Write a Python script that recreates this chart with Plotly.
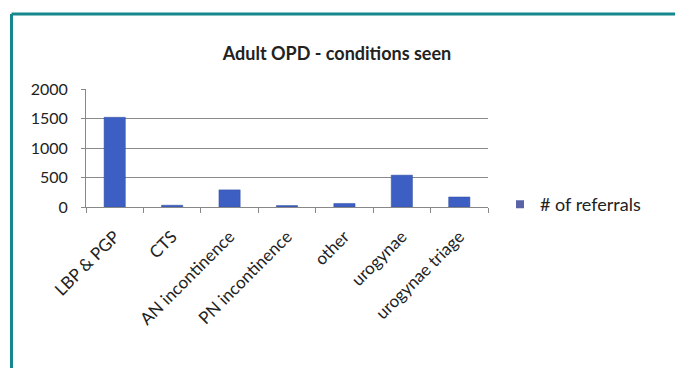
import plotly.graph_objects as go

categories = ["LBP & PGP", "CTS", "AN incontinence", "PN incontinence",
              "other", "urogynae", "urogynae triage"]
referrals = [1520, 30, 290, 25, 60, 540, 170]
y_ticks = [0, 500, 1000, 1500, 2000]

# plot area in pixels: x 86..488, y 89..207
L, R, T, B = 86, 488, 89, 207
W, H = 675, 368
BAR = "#3d5fc4"


def px_x(p):
    return (p - L) / (R - L)


def px_y(p):
    return (B - p) / (B - T)


fig = go.Figure()
fig.add_trace(go.Bar(
    x=categories, y=referrals, name="# of referrals",
    marker=dict(color=BAR, line=dict(color="#34509f", width=0.5)),
    showlegend=False,
))
# legend entry with a small square key
fig.add_trace(go.Scatter(
    x=[None], y=[None], mode="markers", name="# of referrals",
    marker=dict(symbol="square", size=8, color="#5a63a8"),
    showlegend=True,
))

fig.update_layout(
    width=W, height=H,
    margin=dict(l=L, r=W - R, t=T, b=H - B),
    paper_bgcolor="white", plot_bgcolor="white",
    font=dict(family="Lato, Open Sans, sans-serif", size=16, color="#222"),
    bargap=0.63,
    title=dict(text="<b>Adult OPD - conditions seen</b>", x=337 / W, xanchor="center",
               y=1 - 54 / H, yanchor="middle", font=dict(size=18, color="#222")),
    xaxis=dict(
        tickangle=-45, ticks="outside", tickson="boundaries", ticklen=5,
        tickcolor="#888", showline=True, linecolor="#888", linewidth=1,
        showgrid=False, tickfont=dict(size=17, color="#222"),
        ticklabelstandoff=12,
    ),
    yaxis=dict(
        range=[0, 2000], tickvals=y_ticks, ticks="outside", ticklen=4,
        tickcolor="#888", showline=True, linecolor="#888", linewidth=1,
        showgrid=True, gridcolor="#8a8a8a", gridwidth=1, zeroline=False,
        tickfont=dict(size=16, color="#222"), ticklabelstandoff=10,
    ),
    legend=dict(x=px_x(500), xanchor="left", y=0.02, yanchor="middle",
                font=dict(size=18, color="#222"), bgcolor="rgba(0,0,0,0)",
                itemwidth=30),
    shapes=[
        # teal frame: top and left edges
        dict(type="line", xref="paper", yref="paper",
             x0=px_x(11.5), x1=px_x(W + 5), y0=px_y(14), y1=px_y(14),
             line=dict(color="#14888d", width=3)),
        dict(type="line", xref="paper", yref="paper",
             x0=px_x(11.5), x1=px_x(11.5), y0=px_y(14), y1=px_y(H + 5),
             line=dict(color="#14888d", width=3)),
    ],
)

fig.write_html("out.html")
